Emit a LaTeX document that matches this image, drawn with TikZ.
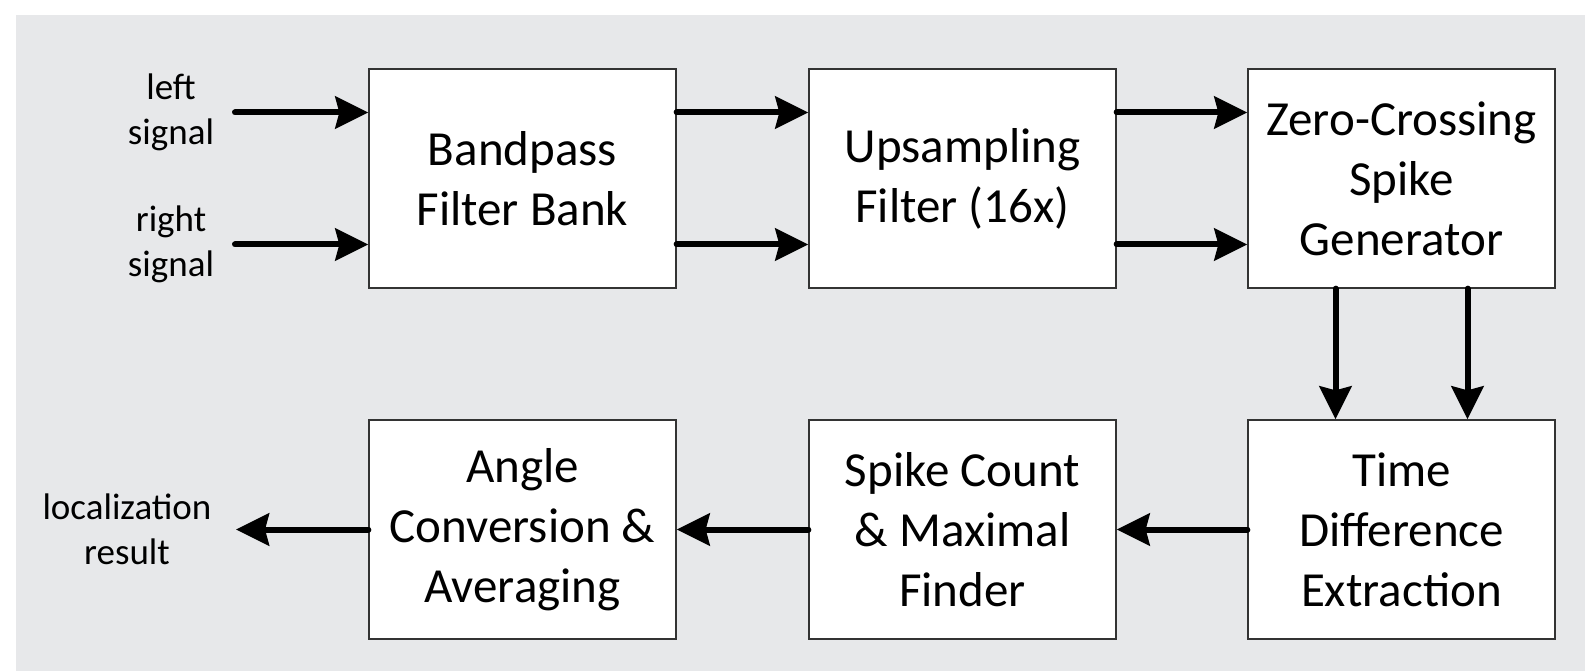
\documentclass[tikz,border=0pt]{standalone}
\usepackage{fontspec}
\setmainfont{Carlito}
\usetikzlibrary{arrows.meta}
\definecolor{bggray}{HTML}{E7E8EA}
\definecolor{edgegray}{HTML}{333333}
\tikzset{
  blockbox/.style={draw=edgegray, line width=1.3pt, fill=white, minimum width=307pt, minimum height=219pt, inner sep=0pt, align=center, font=\fontsize{49}{60}\selectfont},
  sidelabel/.style={align=center, inner sep=0pt, font=\fontsize{37}{44.5}\selectfont},
  arr/.style={line width=6pt, line cap=round, -{Stealth[length=33pt, width=32pt, inset=4pt]}}
}
\begin{document}
\begin{tikzpicture}[x=1pt,y=-1pt]
\useasboundingbox (0,0) rectangle (1585,671);
\fill[bggray] (16,15) rectangle (1585,671);
\node[blockbox] (b1) at (522.5,178.5) {Bandpass\\Filter Bank};
\node[blockbox] (b2) at (962.5,178.5) {Upsampling\\Filter (16x)};
\node[blockbox] (b3) at (1401.5,178.5) {Zero-Crossing\\Spike\\Generator};
\node[blockbox] (b4) at (522.5,529.5) {Angle\\Conversion \&\\Averaging};
\node[blockbox] (b5) at (962.5,529.5) {Spike Count\\\& Maximal\\Finder};
\node[blockbox] (b6) at (1401.5,529.5) {Time\\Difference\\Extraction};
\node[sidelabel] (ll) at (171,112.5) {left\\signal};
\node[sidelabel] (rl) at (171,244.5) {right\\signal};
\node[sidelabel] (ol) at (127,529.5) {localization\\result};
\coordinate (inL) at (235,112.5);
\coordinate (inR) at (235,244.5);
\coordinate (outP) at (236,529.5);
\draw[arr] (inL) -- ([yshift=66pt]b1.west);
\draw[arr] (inR) -- ([yshift=-66pt]b1.west);
\draw[arr] ([yshift=66pt]b1.east) -- ([yshift=66pt]b2.west);
\draw[arr] ([yshift=-66pt]b1.east) -- ([yshift=-66pt]b2.west);
\draw[arr] ([yshift=66pt]b2.east) -- ([yshift=66pt]b3.west);
\draw[arr] ([yshift=-66pt]b2.east) -- ([yshift=-66pt]b3.west);
\draw[arr] ([xshift=-66pt]b3.south) -- ([xshift=-66pt]b6.north);
\draw[arr] ([xshift=66pt]b3.south) -- ([xshift=66pt]b6.north);
\draw[arr] (b6.west) -- (b5.east);
\draw[arr] (b5.west) -- (b4.east);
\draw[arr] (b4.west) -- (outP);
\end{tikzpicture}
\end{document}
